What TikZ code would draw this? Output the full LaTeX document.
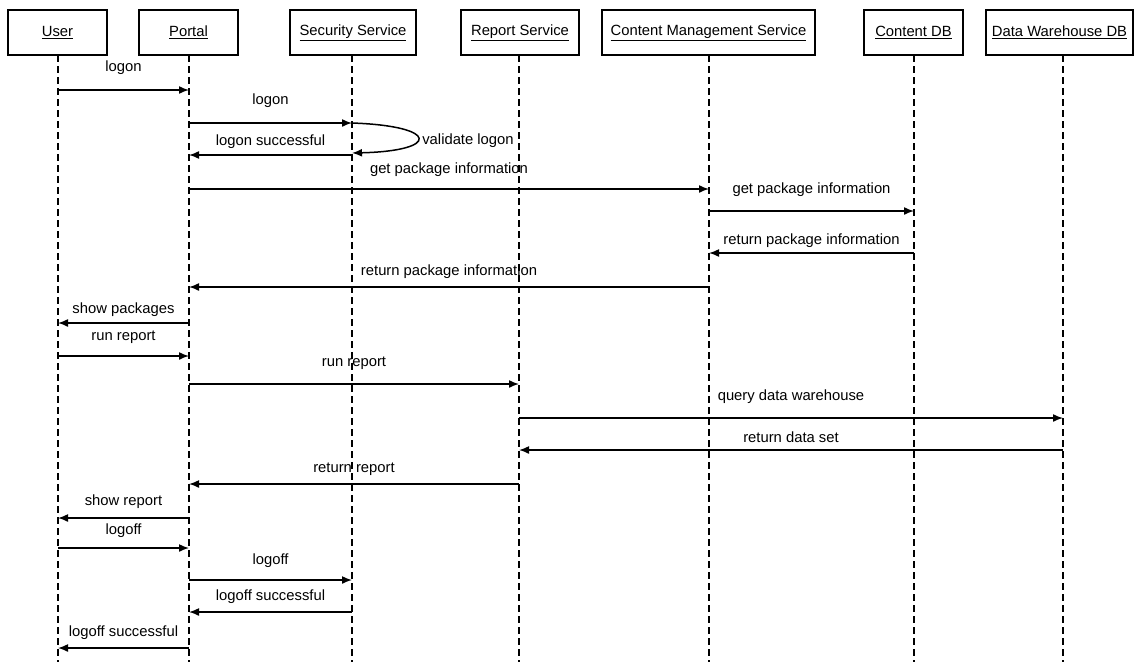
\documentclass[tikz,border=0pt]{standalone}
\usepackage{fontspec}
\setmainfont{Liberation Sans}
\usetikzlibrary{arrows.meta}
\begin{document}
\begin{tikzpicture}[x=1pt,y=-1pt,
  actor/.style={draw, line width=1.4pt, minimum height=45pt, inner sep=0pt,
                font=\fontsize{14.8}{17}\selectfont},
  life/.style={line width=1.3pt, dash pattern=on 7pt off 4pt},
  msg/.style={line width=1.5pt, -{Latex[length=10pt,width=8pt]}},
  lbl/.style={font=\fontsize{14.8}{17}\selectfont, inner sep=0pt},
]
\useasboundingbox (0,0) rectangle (1134,662);

% participants
\node[actor, minimum width=99pt]  (user)   at (57.5,32.5)   {\underline{User}};
\node[actor, minimum width=99pt]  (portal) at (188.5,32.5)  {\underline{Portal}};
\node[actor, minimum width=126pt] (sec)    at (353,32.5)    {\underline{Security Service}};
\node[actor, minimum width=118pt] (rep)    at (520,32.5)    {\underline{Report Service}};
\node[actor, minimum width=213pt] (cms)    at (708.5,32.5)  {\underline{Content Management Service}};
\node[actor, minimum width=99pt]  (cdb)    at (913.5,32.5)  {\underline{Content DB}};
\node[actor, minimum width=147pt] (dw)     at (1059.5,32.5) {\underline{Data Warehouse DB}};

% lifeline tops
\coordinate (uL) at (58,55);
\coordinate (pL) at (189,55);
\coordinate (sL) at (352,55);
\coordinate (rL) at (519,55);
\coordinate (cL) at (709,55);
\coordinate (dL) at (914,55);
\coordinate (wL) at (1063,55);

\foreach \l in {uL,pL,sL,rL,cL,dL,wL}
  \draw[life] (\l) -- (\l |- 0,662);

% message: from, to, y, label offset, text
\newcommand\seqmsg[5]{%
  \draw[msg] (#1 |- 0,#3) -- node[lbl, yshift=#4pt] {#5} (#2 |- 0,#3);}

\seqmsg{uL}{pL}{90}{22}{logon}
\seqmsg{pL}{sL}{123}{22}{logon}
\seqmsg{sL}{pL}{155}{13}{logon successful}
\seqmsg{pL}{cL}{189}{19}{get package information}
\seqmsg{cL}{dL}{211}{21}{get package information}
\seqmsg{dL}{cL}{253}{12}{return package information}
\seqmsg{cL}{pL}{287}{15}{return package information}
\seqmsg{pL}{uL}{323}{13}{show packages}
\seqmsg{uL}{pL}{356}{19}{run report}
\seqmsg{pL}{rL}{384}{21}{run report}
\seqmsg{rL}{wL}{418}{21}{query data warehouse}
\seqmsg{wL}{rL}{450}{13}{return data set}
\seqmsg{rL}{pL}{484}{15}{return report}
\seqmsg{pL}{uL}{518}{16}{show report}
\seqmsg{uL}{pL}{548}{17}{logoff}
\seqmsg{pL}{sL}{580}{19}{logoff}
\seqmsg{sL}{pL}{612}{15}{logoff successful}
\seqmsg{pL}{uL}{648}{15}{logoff successful}

% self call on the security service
\draw[msg] (sL |- 0,123) .. controls +(88,3) and +(88,-2) .. (sL |- 0,153);
\node[lbl] (val) at (468,141) {validate logon};

\end{tikzpicture}
\end{document}
